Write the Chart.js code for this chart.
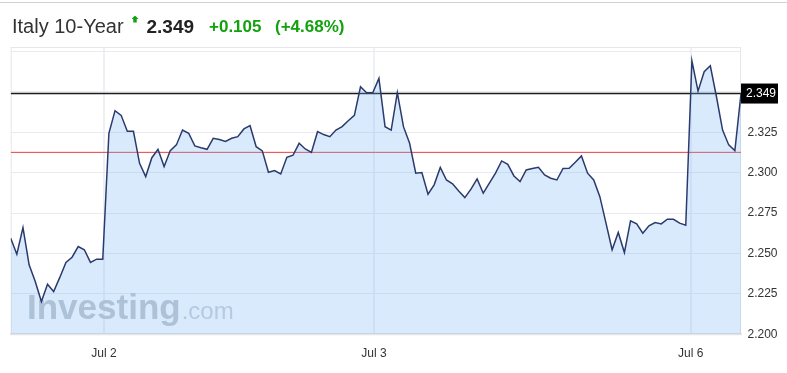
<!DOCTYPE html>
<html>
<head>
<meta charset="utf-8">
<script src="https://cdn.jsdelivr.net/npm/chart.js@4.4.1/dist/chart.umd.min.js"></script>
<style>
html,body{margin:0;padding:0;background:#fff;}
#wrap{position:relative;width:787px;height:373px;overflow:hidden;font-family:"Liberation Sans",Arial,sans-serif;}
#topline{position:absolute;left:0;top:2px;width:787px;height:1px;background:#d2d2d2;}
.t{position:absolute;white-space:nowrap;line-height:1;}
#name{left:12px;top:16.4px;font-size:20px;color:#333;}
#arrow{position:absolute;left:131.5px;top:15.5px;width:7px;height:7px;background:#13a10e;
  clip-path:polygon(50% 0,100% 50%,75% 50%,75% 100%,25% 100%,25% 50%,0 50%);}
#last{left:146.5px;top:17.2px;font-size:19px;font-weight:bold;color:#222;}
#chg{left:209px;top:18.2px;font-size:17px;font-weight:bold;color:#13a10e;}
#pct{left:275px;top:18.2px;font-size:17px;font-weight:bold;color:#13a10e;}
canvas{position:absolute;left:0;top:0;}
</style>
</head>
<body>
<div id="wrap">
  <div id="topline"></div>
  <canvas id="c" width="787" height="373"></canvas>
  <div class="t" id="name">Italy 10-Year</div>
  <div id="arrow"></div>
  <div class="t" id="last">2.349</div>
  <div class="t" id="chg">+0.105</div>
  <div class="t" id="pct">(+4.68%)</div>
</div>
<script>
// ---- data ----
const yields = [
  2.2595, 2.2496, 2.2660, 2.2430, 2.2327, 2.2203, 2.2310, 2.2265, 2.2352, 2.2445,
  2.2477, 2.2543, 2.2523, 2.2445, 2.2465, 2.2465, 2.3244, 2.3384, 2.3355, 2.3256,
  2.3256, 2.3058, 2.2976, 2.3093, 2.3145, 2.3038, 2.3137, 2.3172, 2.3264, 2.3244,
  2.3166, 2.3155, 2.3145, 2.3213, 2.3205, 2.3194, 2.3213, 2.3223, 2.3271, 2.3291,
  2.3161, 2.3135, 2.3003, 2.3013, 2.2992, 2.3095, 2.3108, 2.3182, 2.3147, 2.3126,
  2.3254, 2.3236, 2.3223, 2.3264, 2.3285, 2.3322, 2.3355, 2.3532, 2.3495, 2.3495,
  2.3584, 2.3285, 2.3264, 2.3495, 2.3285, 2.3182, 2.2997, 2.3001, 2.2867, 2.2925,
  2.3032, 2.2955, 2.2931, 2.2887, 2.2846, 2.2898, 2.2962, 2.2873, 2.2935, 2.2997,
  2.3073, 2.3052, 2.2980, 2.2945, 2.3017, 2.3026, 2.3034, 2.2986, 2.2966, 2.2955,
  2.3026, 2.3028, 2.3065, 2.3104, 2.2997, 2.2955, 2.2852, 2.2688, 2.2523, 2.2630,
  2.2506, 2.2702, 2.2683, 2.2626, 2.2671, 2.2692, 2.2683, 2.2712, 2.2712, 2.2688,
  2.2675, 2.3693, 2.3505, 2.3625, 2.3662, 2.3470, 2.3264, 2.3172, 2.3137, 2.3490
];
const lastPrice = 2.349;
const refLevel = 2.3126;
const dayTickIndex = [15.2, 59.2, 110.8];
const dayTickLabels = ["Jul 2", "Jul 3", "Jul 6"];
const yTickValues = [2.200, 2.225, 2.250, 2.275, 2.300, 2.325, 2.350, 2.375];
const yTickLabels = ["2.200", "2.225", "2.250", "2.275", "2.300", "2.325", "", ""];
const yMin = 2.200, yMax = 2.3778;

// ---- chart ----
Chart.defaults.font.family = '"Liberation Sans", Arial, sans-serif';
const lastIdx = yields.length - 1;
const pricePts = yields.map((v, i) => ({x: i, y: v}));
const flat = v => [{x: 0, y: v}, {x: lastIdx, y: v}];

const framePlugin = {
  id: 'frame',
  beforeDatasetsDraw(chart) {
    const {ctx, chartArea: a} = chart;
    ctx.save();
    ctx.strokeStyle = '#e6e7eb';
    ctx.lineWidth = 1;
    ctx.strokeRect(a.left + 0.5, a.top + 0.5, a.right - a.left - 1, a.bottom - a.top);
    // watermark
    ctx.textBaseline = 'alphabetic';
    ctx.fillStyle = '#c3c6cc';
    ctx.font = 'bold 35px "Liberation Sans", Arial, sans-serif';
    ctx.fillText('Investing', 27, 319);
    const w = ctx.measureText('Investing').width;
    ctx.fillStyle = '#cfd2d7';
    ctx.font = '24px "Liberation Sans", Arial, sans-serif';
    ctx.fillText('.com', 27 + w + 1, 319);
    ctx.restore();
  },
  afterDraw(chart) {
    const {ctx, chartArea: a, scales: {y}} = chart;
    const py = y.getPixelForValue(lastPrice);
    ctx.save();
    ctx.fillStyle = '#000';
    ctx.fillRect(a.right, py - 10, 37, 20);
    ctx.fillStyle = '#fff';
    ctx.font = '12px "Liberation Sans", Arial, sans-serif';
    ctx.textBaseline = 'middle';
    ctx.textAlign = 'left';
    ctx.fillText(lastPrice.toFixed(3), a.right + 5, py + 0.5);
    ctx.restore();
  }
};

new Chart(document.getElementById('c'), {
  type: 'line',
  data: {
    datasets: [
      {data: pricePts, borderColor: '#2b3a6c', borderWidth: 1.5, fill: 'start',
       backgroundColor: 'rgba(120,180,245,0.28)', pointRadius: 0, tension: 0, order: 0},
      {data: flat(lastPrice), borderColor: '#1a1a1a', borderWidth: 1.5, fill: false, pointRadius: 0, order: 1},
      {data: flat(refLevel), borderColor: '#ee3b3b', borderWidth: 1, fill: false, pointRadius: 0, order: 2}
    ]
  },
  options: {
    responsive: false,
    animation: false,
    layout: {padding: {left: 10.7, top: 47, right: 0, bottom: 0}},
    plugins: {legend: {display: false}, tooltip: {enabled: false}},
    scales: {
      x: {
        type: 'linear', min: 0, max: lastIdx, offset: false,
        afterBuildTicks: s => { s.ticks = dayTickIndex.map(v => ({value: v})); },
        afterFit: s => { s.height = 38.7; },
        ticks: {autoSkip: false, maxRotation: 0, padding: 12.5, color: '#333',
                font: {size: 12}, callback: (v, i) => dayTickLabels[i]},
        grid: {color: '#eef0f4', lineWidth: 2, drawTicks: false},
        border: {display: true, color: '#e3e3e3', width: 2}
      },
      y: {
        position: 'right', min: yMin, max: yMax,
        afterBuildTicks: s => { s.ticks = yTickValues.map(v => ({value: v})); },
        afterFit: s => { s.width = 46; },
        ticks: {padding: 6.5, color: '#333', font: {size: 12},
                callback: (v, i) => yTickLabels[i]},
        grid: {color: '#e9ebf0', lineWidth: 1, drawTicks: false},
        border: {display: false}
      }
    }
  },
  plugins: [framePlugin]
});
</script>
</body>
</html>
